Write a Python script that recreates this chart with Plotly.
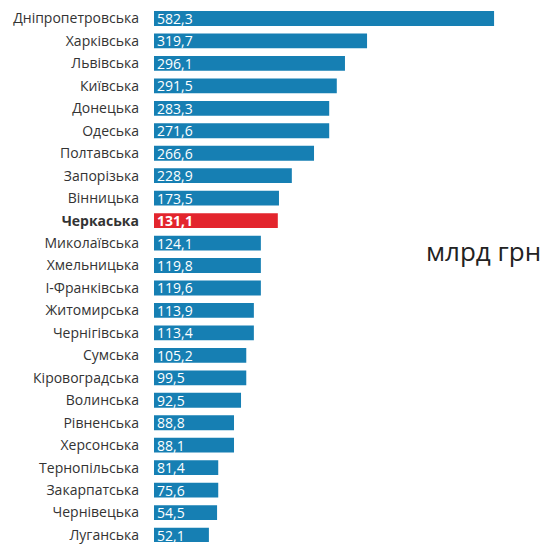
import plotly.graph_objects as go

regions = ["Дніпропетровська", "Харківська", "Львівська", "Київська", "Донецька",
           "Одеська", "Полтавська", "Запорізька", "Вінницька", "Черкаська",
           "Миколаївська", "Хмельницька", "І-Франківська", "Житомирська", "Чернігівська",
           "Сумська", "Кіровоградська", "Волинська", "Рівненська", "Херсонська",
           "Тернопільська", "Закарпатська", "Чернівецька", "Луганська"]
# printed values (billion UAH)
value_labels = ["582,3", "319,7", "296,1", "291,5", "283,3", "271,6", "266,6", "228,9",
                "173,5", "131,1", "124,1", "119,8", "119,6", "113,9", "113,4", "105,2",
                "99,5", "92,5", "88,8", "88,1", "81,4", "75,6", "54,5", "52,1"]
# bar lengths as drawn in the original graphic (same scale as the top bar)
bar_lengths = [582.3, 364.8, 327, 313, 300, 300, 274, 236, 214, 212, 183, 183, 183,
               171, 171, 158, 158, 149, 137, 137, 110, 110, 108, 94]
highlight = "Черкаська"
unit_label = "млрд грн"

BLUE = "#167fb3"
RED = "#e3252d"

colors = [RED if r == highlight else BLUE for r in regions]
ticktext = [f"<b>{r}</b>" if r == highlight else r for r in regions]
texts = [f"<b>{v}</b>" if r == highlight else v for r, v in zip(regions, value_labels)]

fig = go.Figure(go.Bar(
    x=bar_lengths, y=regions, orientation="h",
    marker=dict(color=colors, line=dict(width=0)),
    width=0.66,
    text=texts, textposition="inside", insidetextanchor="start",
    textangle=0, constraintext="none",
    insidetextfont=dict(family="Open Sans", size=14, color="white"),
    hoverinfo="skip",
))

fig.update_layout(
    width=544, height=536,
    margin=dict(l=146, r=0, t=0, b=0),
    paper_bgcolor="white", plot_bgcolor="white",
    showlegend=False,
    font=dict(family="Open Sans", size=14, color="#333333"),
    xaxis=dict(visible=False, range=[0, 681.5], fixedrange=True),
    yaxis=dict(type="category", categoryorder="array", categoryarray=regions,
               range=[23.31, -0.466], tickvals=regions, ticktext=ticktext,
               showgrid=False, showline=False, zeroline=False,
               ticks="", ticklabelstandoff=14,
               tickfont=dict(family="Open Sans", size=14, color="#333333")),
    annotations=[dict(text=unit_label, xref="paper", yref="paper",
                      x=1.0, y=1 - 244 / 536, xanchor="right", yanchor="middle",
                      xshift=-9, showarrow=False,
                      font=dict(family="Open Sans", size=26, color="#222222"))],
)

fig.write_html("out.html")
